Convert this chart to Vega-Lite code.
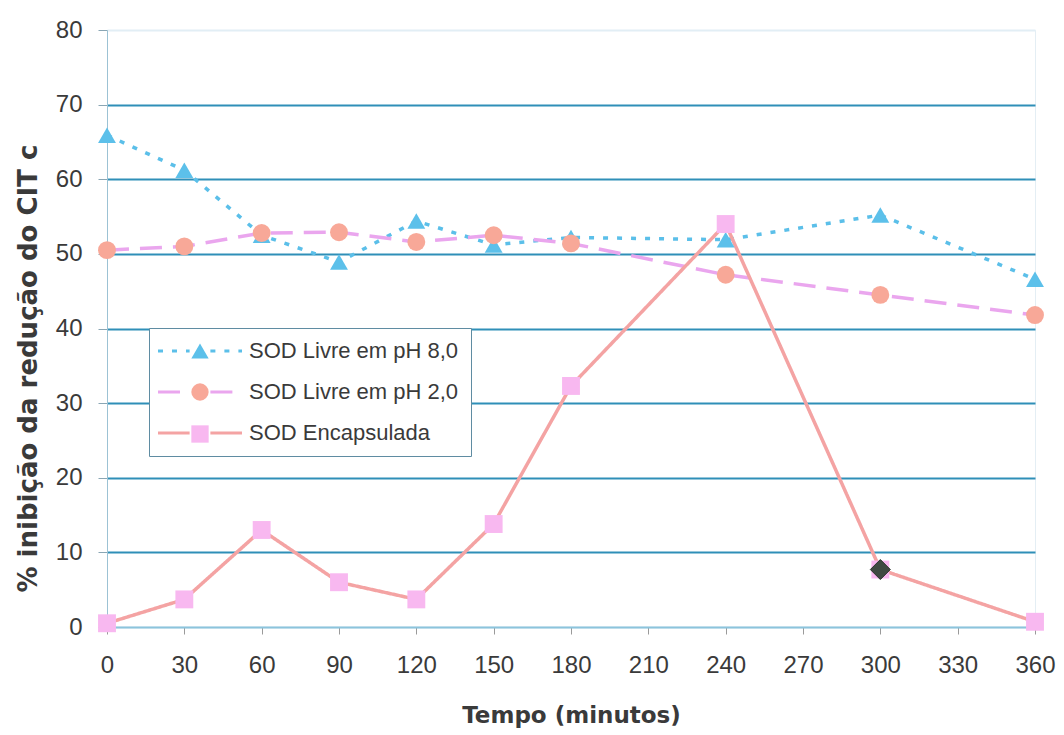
{
  "$schema": "https://vega.github.io/schema/vega-lite/v6.json",
  "width": 928,
  "height": 597,
  "autosize": "none",
  "padding": {"left": 107, "top": 30, "right": 29, "bottom": 108},
  "background": "white",
  "config": {
    "view": {"stroke": "#e4eef4", "strokeWidth": 1},
    "font": "Liberation Sans"
  },
  "data": {
    "values": [
      {"tempo": 0, "serie": "SOD Livre em pH 8,0", "valor": 65.9},
      {"tempo": 30, "serie": "SOD Livre em pH 8,0", "valor": 61.2},
      {"tempo": 60, "serie": "SOD Livre em pH 8,0", "valor": 52.5},
      {"tempo": 90, "serie": "SOD Livre em pH 8,0", "valor": 48.9},
      {"tempo": 120, "serie": "SOD Livre em pH 8,0", "valor": 54.4},
      {"tempo": 150, "serie": "SOD Livre em pH 8,0", "valor": 51.2},
      {"tempo": 180, "serie": "SOD Livre em pH 8,0", "valor": 52.2},
      {"tempo": 240, "serie": "SOD Livre em pH 8,0", "valor": 51.9},
      {"tempo": 300, "serie": "SOD Livre em pH 8,0", "valor": 55.2},
      {"tempo": 360, "serie": "SOD Livre em pH 8,0", "valor": 46.6},
      {"tempo": 0, "serie": "SOD Livre em pH 2,0", "valor": 50.5},
      {"tempo": 30, "serie": "SOD Livre em pH 2,0", "valor": 51.0},
      {"tempo": 60, "serie": "SOD Livre em pH 2,0", "valor": 52.8},
      {"tempo": 90, "serie": "SOD Livre em pH 2,0", "valor": 52.9},
      {"tempo": 120, "serie": "SOD Livre em pH 2,0", "valor": 51.6},
      {"tempo": 150, "serie": "SOD Livre em pH 2,0", "valor": 52.5},
      {"tempo": 180, "serie": "SOD Livre em pH 2,0", "valor": 51.4},
      {"tempo": 240, "serie": "SOD Livre em pH 2,0", "valor": 47.2},
      {"tempo": 300, "serie": "SOD Livre em pH 2,0", "valor": 44.5},
      {"tempo": 360, "serie": "SOD Livre em pH 2,0", "valor": 41.8},
      {"tempo": 0, "serie": "SOD Encapsulada", "valor": 0.5},
      {"tempo": 30, "serie": "SOD Encapsulada", "valor": 3.7},
      {"tempo": 60, "serie": "SOD Encapsulada", "valor": 13.0},
      {"tempo": 90, "serie": "SOD Encapsulada", "valor": 6.0},
      {"tempo": 120, "serie": "SOD Encapsulada", "valor": 3.7},
      {"tempo": 150, "serie": "SOD Encapsulada", "valor": 13.8},
      {"tempo": 180, "serie": "SOD Encapsulada", "valor": 32.3},
      {"tempo": 240, "serie": "SOD Encapsulada", "valor": 54.0},
      {"tempo": 300, "serie": "SOD Encapsulada", "valor": 7.7},
      {"tempo": 360, "serie": "SOD Encapsulada", "valor": 0.7}
    ]
  },
  "encoding": {
    "x": {
      "field": "tempo",
      "type": "quantitative",
      "scale": {"domain": [0, 360], "nice": false, "zero": false},
      "axis": {
        "title": "Tempo (minutos)",
        "values": [0, 30, 60, 90, 120, 150, 180, 210, 240, 270, 300, 330, 360],
        "grid": false,
        "labelFont": "Liberation Sans",
        "labelFontSize": 24,
        "labelColor": "#3a3a3a",
        "labelPadding": 19,
        "labelFlush": false,
        "tickSize": 7,
        "tickColor": "#9a9a9a",
        "tickWidth": 1,
        "domainColor": "#8cc4dc",
        "domainWidth": 2,
        "titleFont": "DejaVu Sans",
        "titleFontWeight": "bold",
        "titleFontSize": 23,
        "titleColor": "#3a3a3a",
        "titlePadding": 27
      }
    },
    "y": {
      "field": "valor",
      "type": "quantitative",
      "scale": {"domain": [0, 80], "nice": false},
      "axis": {
        "title": "% inibição da redução do CIT c",
        "values": [0, 10, 20, 30, 40, 50, 60, 70, 80],
        "grid": true,
        "gridColor": {"condition": {"test": "datum.value == 80 || datum.value == 0", "value": "#e2eef5"}, "value": "#2f8fb8"},
        "gridWidth": 2,
        "labelFont": "Liberation Sans",
        "labelFontSize": 24,
        "labelColor": "#3a3a3a",
        "labelPadding": 16,
        "labelFlush": false,
        "tickSize": 9,
        "tickColor": "#8aa6b4",
        "tickWidth": 1,
        "domainColor": "#9cc2d4",
        "domainWidth": 1,
        "titleFont": "DejaVu Sans",
        "titleFontWeight": "bold",
        "titleFontSize": 26,
        "titleColor": "#3a3a3a",
        "titleX": -79,
        "titleY": 338,
        "titleAlign": "center",
        "titleBaseline": "middle",
        "titleAngle": 270
      }
    }
  },
  "layer": [
    {
      "mark": {"type": "line", "strokeWidth": 3.5},
      "encoding": {
        "stroke": {
          "field": "serie",
          "type": "nominal",
          "sort": "descending",
          "scale": {"range": ["#5bbfe9", "#eaa6ee", "#f4a3a3"]},
          "legend": {
            "title": null,
            "orient": "none",
            "legendX": 42,
            "legendY": 298,
            "padding": 12,
            "fillColor": "white",
            "strokeColor": "#5f8ca2",
            "symbolType": "M-4.85,0H-1.2M1.2,0H4.85",
            "symbolSize": 300,
            "symbolStrokeWidth": 3,
            "symbolFillColor": "transparent",
            "symbolOffset": 28,
            "labelOffset": 38,
            "labelFont": "Liberation Sans",
            "labelFontSize": 22,
            "labelColor": "#3a3a3a",
            "rowPadding": 19,
            "labelLimit": 400
          }
        },
        "strokeDash": {
          "field": "serie",
          "type": "nominal",
          "sort": "descending",
          "scale": {"range": [[5, 9], [22, 11], [1, 0]]},
          "legend": {
            "title": null,
            "orient": "none",
            "legendX": 42,
            "legendY": 298
          }
        }
      }
    },
    {
      "mark": {"type": "point", "filled": true, "opacity": 1, "size": 320, "strokeWidth": 0},
      "encoding": {
        "fill": {
          "field": "serie",
          "type": "nominal",
          "scale": {
            "domain": ["SOD Livre em pH 8,0", "SOD Livre em pH 2,0", "SOD Encapsulada"],
            "range": ["#5cc0ea", "#f8a898", "#f8b8f0"]
          },
          "legend": {
            "title": null,
            "orient": "none",
            "legendX": 42,
            "legendY": 298,
            "padding": 12,
            "fillColor": "transparent",
            "strokeColor": "transparent",
            "symbolSize": 300,
            "symbolStrokeWidth": 3,
            "symbolStrokeColor": "transparent",
            "symbolOffset": 28,
            "labelOffset": 69,
            "labelExpr": "''",
            "labelFont": "Liberation Sans",
            "labelFontSize": 22,
            "labelColor": "transparent",
            "rowPadding": 12,
            "labelLimit": 400
          }
        },
        "shape": {
          "field": "serie",
          "type": "nominal",
          "scale": {
            "domain": ["SOD Livre em pH 8,0", "SOD Livre em pH 2,0", "SOD Encapsulada"],
            "range": ["triangle-up", "circle", "square"]
          },
          "legend": {
            "title": null,
            "orient": "none",
            "legendX": 42,
            "legendY": 298
          }
        }
      }
    },
    {
      "transform": [{"filter": "datum.tempo == 300 && datum.serie == 'SOD Encapsulada'"}],
      "mark": {"type": "point", "filled": true, "opacity": 1, "size": 400, "shape": "diamond", "fill": "#3f4a42", "stroke": "#2c332e", "strokeWidth": 1},
      "encoding": {}
    }
  ]
}
